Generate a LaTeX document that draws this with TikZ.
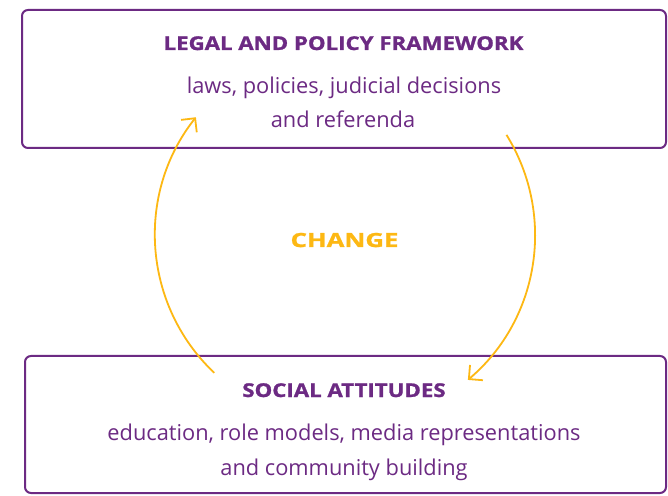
\documentclass[tikz,border=0pt]{standalone}
\usepackage{fontspec}
\setmainfont{Open Sans}
\newfontfamily\headfont[FakeStretch=1.17,BoldFeatures={FakeBold=1.2}]{Open Sans}
\newfontfamily\changefont[FakeStretch=1.32,BoldFeatures={FakeBold=1.2}]{Open Sans}
\usetikzlibrary{arrows.meta}
\definecolor{purp}{HTML}{6C2A83}
\definecolor{gold}{HTML}{FDB813}
\begin{document}
\begin{tikzpicture}[x=1pt,y=1pt,
  box/.style={draw=purp,line width=2pt,rounded corners=6pt,inner sep=0pt},
  head/.style={anchor=base,text=purp,font=\headfont\fontsize{19}{22}\selectfont\bfseries},
  body/.style={anchor=base,text=purp,font=\fontsize{21.8}{26}\selectfont},
  cyc/.style={draw=gold,line width=1.8pt,-{Straight Barb[length=10pt,width=20pt,line width=1.8pt]}}]
\useasboundingbox[fill=white] (0,0) rectangle (668,495);
\node[box,minimum width=644pt,minimum height=138pt] (top) at (344,416) {};
\node[box,minimum width=641pt,minimum height=137pt] (bot) at (345.5,70.5) {};
\node[head] (toptitle) at (343.5,445) {LEGAL AND POLICY FRAMEWORK};
\node[body] (topl1) at (344,401.7) {laws, policies, judicial decisions};
\node[body] (topl2) at (343,367) {and referenda};
\node[head,text=gold,font=\changefont\fontsize{19.5}{24}\selectfont\bfseries] (change) at (344.5,248) {CHANGE};
\node[head] (bottitle) at (344,98) {SOCIAL ATTITUDES};
\node[body] (botl1) at (344,55) {education, role models, media representations};
\node[body] (botl2) at (344,20) {and community building};
\coordinate (c) at (345,260);
\coordinate (ls) at ([shift={(226.5:190pt)}]c);
\coordinate (rs) at ([shift={(31.8:190pt)}]c);
\draw[cyc] (ls) arc[start angle=226.5,end angle=141.7,radius=190pt];
\draw[cyc] (rs) arc[start angle=31.8,end angle=-49.7,radius=190pt];
\end{tikzpicture}
\end{document}
